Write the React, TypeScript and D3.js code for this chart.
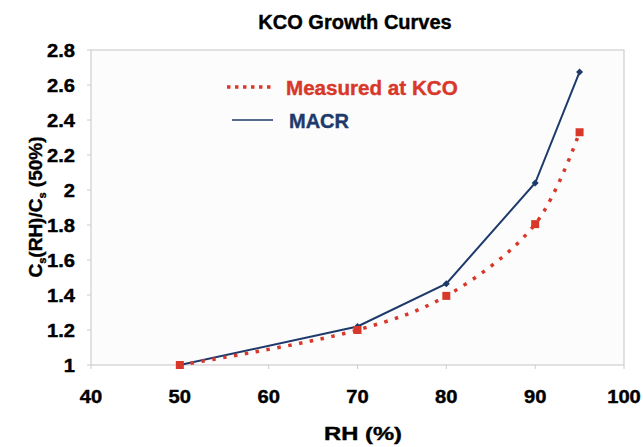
import React from "react";
import * as d3 from "d3";

const rh = [50, 70, 80, 90, 95];
const measured = [1.0, 1.2, 1.395, 1.805, 2.33];
const macr = [1.0, 1.22, 1.465, 2.04, 2.675];
const xTicks = [40, 50, 60, 70, 80, 90, 100];
const yTicks = [1, 1.2, 1.4, 1.6, 1.8, 2, 2.2, 2.4, 2.6, 2.8];

const W = 643, H = 447;
const L = 91, R = 624, T = 50, B = 365;
const FONT = "'Liberation Sans', Arial, sans-serif";
const RED = "#d8382a";
const BLUE = "#1e3a6b";

function T2({ x, y, sx = 1, size, anchor = "start", fill = "#000", children }: any) {
  return (
    <text
      transform={`translate(${x},${y}) scale(${sx},1)`}
      textAnchor={anchor}
      fontFamily={FONT}
      fontWeight="bold"
      fontSize={size}
      fill={fill}
      stroke={fill}
      strokeWidth={0.4}
    >
      {children}
    </text>
  );
}

export default function App() {
  const x = d3.scaleLinear().domain([40, 100]).range([L, R]);
  const y = d3.scaleLinear().domain([1, 2.8]).range([B, T]);
  const mPts: [number, number][] = rh.map((r, i) => [x(r), y(measured[i])]);
  const bPts: [number, number][] = rh.map((r, i) => [x(r), y(macr[i])]);
  const smooth = d3.line().curve(d3.curveCatmullRom.alpha(0.5));
  const straight = d3.line();
  return (
    <svg width={W} height={H} style={{ position: "absolute", left: 0, top: 0, background: "#fff" }}>
      <rect x={L} y={T} width={R - L} height={B - T} fill="#fcfcfc" stroke="#c9c3c6" strokeWidth={1} />
      {yTicks.map((t) => (
        <g key={"y" + t}>
          <line x1={L - 4} x2={L} y1={y(t)} y2={y(t)} stroke="#d0cacc" />
          <T2 x={75} y={y(t) + 6.5} sx={1.12} size={18} anchor="end">{t}</T2>
        </g>
      ))}
      {xTicks.map((t) => (
        <g key={"x" + t}>
          <line x1={x(t)} x2={x(t)} y1={B} y2={B + 4} stroke="#d0cacc" />
          <T2 x={x(t)} y={403} sx={1.12} size={18} anchor="middle">{t}</T2>
        </g>
      ))}
      <path d={straight(bPts) || ""} fill="none" stroke={BLUE} strokeWidth={2} />
      {bPts.map((p, i) => (
        <path key={"b" + i} d={`M${p[0]},${p[1] - 3.5}L${p[0] + 3.5},${p[1]}L${p[0]},${p[1] + 3.5}L${p[0] - 3.5},${p[1]}Z`} fill={BLUE} />
      ))}
      <path d={smooth(mPts) || ""} fill="none" stroke={RED} strokeWidth={3.5} strokeDasharray="3.5 7.5" />
      {mPts.map((p, i) => (
        <rect key={"m" + i} x={p[0] - 4} y={p[1] - 4} width={8} height={8} fill={RED} />
      ))}
      <line x1={227} x2={272} y1={87} y2={87} stroke={RED} strokeWidth={3.5} strokeDasharray="3.5 4.5" />
      <T2 x={286} y={95} sx={1.03} size={20} fill={RED}>Measured at KCO</T2>
      <line x1={232} x2={273} y1={120} y2={120} stroke={BLUE} strokeWidth={1.5} />
      <T2 x={289} y={128} sx={1.0} size={20} fill={BLUE}>MACR</T2>
      <T2 x={355} y={29} sx={1.0} size={20} anchor="middle">KCO Growth Curves</T2>
      <T2 x={363} y={440} sx={1.25} size={19} anchor="middle">RH (%)</T2>
      <text
        transform={`translate(42,207) rotate(-90)`}
        textAnchor="middle"
        fontFamily={FONT}
        fontWeight="bold"
        fontSize={19}
        fill="#000"
        stroke="#000"
        strokeWidth={0.4}
      >
        C<tspan fontSize={11} dy={4}>s</tspan><tspan dy={-4}>(RH)/C</tspan><tspan fontSize={11} dy={4}>s</tspan><tspan dy={-4}> (50%)</tspan>
      </text>
    </svg>
  );
}
